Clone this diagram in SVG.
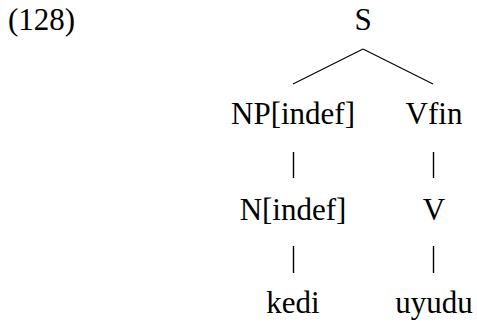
<svg xmlns="http://www.w3.org/2000/svg" width="477" height="325" viewBox="0 0 477 325">
<style>
text{font-family:'Liberation Serif','Times New Roman',serif;font-size:31px;fill:#000;text-anchor:middle}
.e{stroke:#000;stroke-width:1.2;fill:none}
.v{stroke-width:1.4}
</style>
<rect width="477" height="325" fill="#fff"/>
<text x="8" y="30" style="text-anchor:start">(128)</text>
<g id="connectors">
<line class="e" x1="363" y1="49" x2="293" y2="84"/>
<line class="e" x1="363" y1="49" x2="433" y2="84"/>
<line class="e v" x1="293.5" y1="152" x2="293.5" y2="178"/>
<line class="e v" x1="433.5" y1="152" x2="433.5" y2="178"/>
<line class="e v" x1="293.5" y1="246" x2="293.5" y2="273"/>
<line class="e v" x1="433.5" y1="246" x2="433.5" y2="273"/>
</g>
<g id="S"><text x="363" y="30">S</text></g>
<g id="NP"><text x="293" y="124">NP[indef]</text></g>
<g id="Vfin"><text x="434" y="124">Vfin</text></g>
<g id="N"><text x="293" y="220">N[indef]</text></g>
<g id="V"><text x="434" y="220">V</text></g>
<g id="kedi"><text x="293" y="313">kedi</text></g>
<g id="uyudu"><text x="434" y="313">uyudu</text></g>
</svg>
